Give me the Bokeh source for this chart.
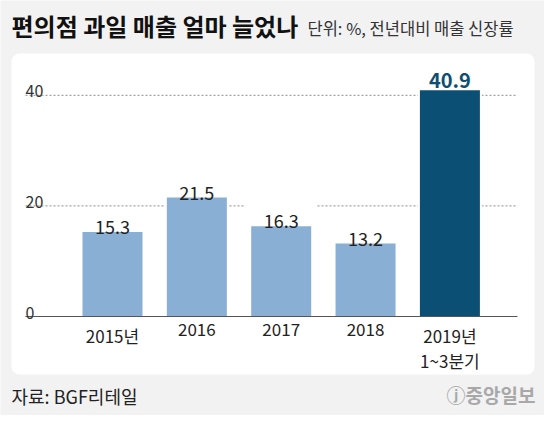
from bokeh.plotting import figure
from bokeh.models import Range1d, ColumnDataSource
from bokeh.core.properties import value
from bokeh.embed import file_html
from bokeh.resources import INLINE

# ---- data ----
categories = ["2015년", "2016", "2017", "2018", "2019년\n1~3분기"]
values = [15.3, 21.5, 16.3, 13.2, 40.9]
highlight = [False, False, False, False, True]
y_ticks = [0, 20, 40]
title_text = "편의점 과일 매출 얼마 늘었나"
subtitle_text = "단위: %, 전년대비 매출 신장률"
source_text = "자료: BGF리테일"
credit_text = "ⓙ중앙일보"

# ---- layout (pixels of the reference picture) ----
W, H = 544, 415
OX, OY = 8, 8
XS = 84.35        # px per category
X0 = 120.0        # px of first category centre
YS = 5.53         # px per percent
Y0 = 324.0        # px of zero line
FONT = value("Noto Sans CJK KR")

def dx(px):
    return (px - X0) / XS

def dy(py):
    return (Y0 - py) / YS

p = figure(width=W, height=H, output_backend="svg", toolbar_location=None,
           x_axis_type=None, y_axis_type=None, min_border=0,
           x_range=Range1d(dx(OX), dx(OX + W)), y_range=Range1d(dy(OY + H), dy(OY)))
p.background_fill_color = "#f2f2f2"
p.border_fill_color = "#f2f2f2"
p.outline_line_color = None
p.grid.visible = False

# white panel
p.quad(left=dx(19), right=dx(542), top=dy(61), bottom=dy(382),
       fill_color="white", line_color=None, border_radius=8)

xs = list(range(len(categories)))
src = ColumnDataSource(dict(
    x=xs, v=values, cat=categories,
    color=["#0b4f75" if h else "#8aafd4" for h in highlight],
    box_top=[v + 24 / YS for v in values],
))

# grid lines
grid_ticks = [t for t in y_ticks if t != 0]
p.segment(x0=[dx(33)] * len(grid_ticks), x1=[dx(525)] * len(grid_ticks),
          y0=grid_ticks, y1=grid_ticks, line_color="#8c8c8c", line_width=1,
          line_dash="2 2")

# white halos around bars and label boxes
p.vbar(x="x", top="v", bottom=0, width=64 / XS, source=src,
       fill_color="white", line_color=None)
p.vbar(x="x", top="box_top", bottom="v", width=72 / XS, source=src,
       fill_color="white", line_color=None)

# bars
p.vbar(x="x", top="v", bottom=0, width=60 / XS, source=src,
       fill_color="color", line_color=None)

# baseline
p.segment(x0=[dx(33)], x1=[dx(525)], y0=[0], y1=[0], line_color="#555555", line_width=1)

# y tick labels
p.text(x=[dx(33)] * len(y_ticks), y=y_ticks, text=[str(t) for t in y_ticks],
       text_font=FONT, text_font_size="16px", text_color="#333333",
       text_align="left", text_baseline="alphabetic", y_offset=-4)

# x labels
p.text(x="x", y=0, text="cat", source=src, text_font=FONT, text_font_size="17px",
       text_color="#222222", text_align="center", text_baseline="top",
       y_offset=6, text_line_height=1.0)

# value labels
reg = [i for i, h in enumerate(highlight) if not h]
hi = [i for i, h in enumerate(highlight) if h]
p.text(x=[xs[i] for i in reg], y=[values[i] for i in reg],
       text=[f"{values[i]:.1f}" for i in reg], text_font=FONT, text_font_size="18px",
       text_color="#222222", text_align="center", text_baseline="alphabetic", y_offset=-5)
p.text(x=[xs[i] for i in hi], y=[values[i] for i in hi],
       text=[f"{values[i]:.1f}" for i in hi], text_font=FONT, text_font_size="20px",
       text_font_style="bold", text_color="#0d4f73", text_align="center",
       text_baseline="alphabetic", y_offset=-10)

# title, subtitle, source, credit
p.text(x=[dx(19)], y=[dy(32.5)], text=[title_text], text_font=FONT, text_font_size="24px",
       text_font_style="bold", text_color="#111111", text_align="left", text_baseline="middle")
p.text(x=[dx(315)], y=[dy(35)], text=[subtitle_text], text_font=FONT, text_font_size="16.5px",
       text_color="#333333", text_align="left", text_baseline="middle")
p.text(x=[dx(19)], y=[dy(403)], text=[source_text], text_font=FONT, text_font_size="18px",
       text_color="#222222", text_align="left", text_baseline="middle")
p.text(x=[dx(543)], y=[dy(402)], text=[credit_text], text_font=FONT, text_font_size="19px",
       text_color="#a8a8a8", text_font_style="bold", text_align="right", text_baseline="middle")

open("out.html", "w").write(file_html(p, INLINE))
